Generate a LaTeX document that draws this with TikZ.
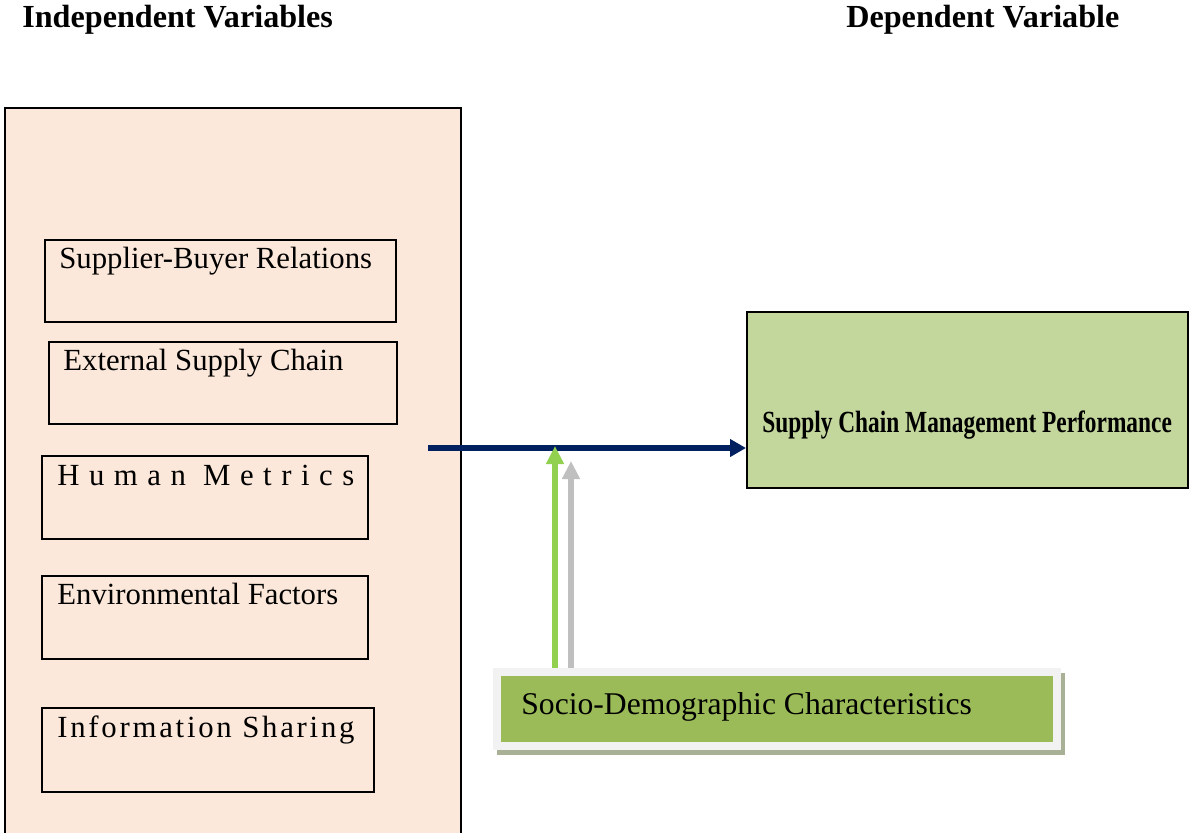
\documentclass[tikz,border=0pt]{standalone}
\usepackage{fontspec}
\setmainfont{Liberation Serif}
\newfontfamily\condfont[FakeStretch=0.76]{Liberation Serif}
\usepackage{tikz}
\usetikzlibrary{positioning,shadows}
\usetikzlibrary{arrows.meta}
\tikzset{>={Triangle[width=0.34cm,length=0.32cm]}}
\definecolor{peach}{HTML}{FCE8DA}
\definecolor{navy}{HTML}{002060}
\definecolor{lgreen}{HTML}{92D050}
\definecolor{lgray}{HTML}{BFBFBF}
\definecolor{scmgreen}{HTML}{C3D69B}
\definecolor{sgreen}{HTML}{9BBB59}
\definecolor{sframe}{HTML}{F2F2F2}
\definecolor{sshadow}{HTML}{A8B096}

\begin{document}
\begin{tikzpicture}[x=0.02cm, y=-0.02cm]
          \tikzstyle{hnode} = [inner sep=0pt, font=\fontsize{18.3pt}{21pt}\selectfont\bfseries]
          \tikzstyle{bnode} = [draw, line width=1.2pt, rectangle, anchor=north west, inner sep=0pt]
          \tikzstyle{tnode} = [inner sep=0pt, font=\fontsize{17.5pt}{21pt}\selectfont]
          \useasboundingbox (0,0) rectangle (1189,832);

          \node[hnode, anchor=base west] (ivtitle) at (22,27) {Independent Variables};
          \node[hnode, anchor=base west] (dvtitle) at (846,27) {Dependent Variable};

          % independent variables
          \node[bnode, fill=peach, minimum width=9.12cm, minimum height=14.9cm] (indep) at (4,107) {};
          \node[bnode, minimum width=7.02cm, minimum height=1.64cm] (sbr) at (44,239) {};
          \node[tnode, below right = 0.58cm and 0.3cm of sbr.north west, anchor=base west] (sbrt) {Supplier-Buyer Relations};
          \node[bnode, minimum width=6.96cm, minimum height=1.64cm] (esc) at (48,341) {};
          \node[tnode, below right = 0.58cm and 0.3cm of esc.north west, anchor=base west] (esct) {External Supply Chain};
          \node[bnode, minimum width=6.52cm, minimum height=1.66cm] (hm) at (41,455) {};
          \node[tnode, below right = 0.6cm and 0.32cm of hm.north west, anchor=base west] (hmt) {\addfontfeature{LetterSpace=31}Human Metrics};
          \node[bnode, minimum width=6.52cm, minimum height=1.66cm] (ef) at (41,575) {};
          \node[tnode, below right = 0.58cm and 0.32cm of ef.north west, anchor=base west] (eft) {Environmental Factors};
          \node[bnode, minimum width=6.64cm, minimum height=1.68cm] (is) at (41,707) {};
          \node[tnode, below right = 0.6cm and 0.32cm of is.north west, anchor=base west] (ist) {\addfontfeature{LetterSpace=9}Information Sharing};

          % dependent variable
          \node[bnode, fill=scmgreen, minimum width=8.82cm, minimum height=3.52cm] (scm) at (746,311) {};
          \node[tnode, below right = 2.44cm and 0.32cm of scm.north west, anchor=base west] (scmt) {\condfont\bfseries Supply Chain Management Performance};

          % moderator
          \node[fill=sgreen, draw=sframe, line width=0.16cm, anchor=north west, inner sep=0pt,
                minimum width=11.2cm, minimum height=1.49cm,
                general shadow={shadow xshift=0.08cm, shadow yshift=-0.1cm, fill=sshadow, draw=sshadow, line width=0.16cm}] (socio) at (493,668) {};
          \node[tnode, font=\fontsize{18pt}{21pt}\selectfont, below right = 0.92cm and 0.56cm of socio.north west, anchor=base west] (sociot) {Socio-Demographic Characteristics};

          \coordinate (ivout) at (428,448);
          \coordinate (mod) at (555,446);
          \coordinate (modg) at (571,461);
          \draw[->, navy, line width=3.4pt] (ivout) -- (ivout -| scm.west);
          \draw[->, lgray, line width=3.4pt, >={Triangle[width=0.34cm,length=0.36cm]}] (modg |- socio.north) -- (modg);
          \draw[->, lgreen, line width=3.4pt, >={Triangle[width=0.34cm,length=0.36cm]}] (mod |- socio.north) -- (mod);
        \end{tikzpicture}
\end{document}
